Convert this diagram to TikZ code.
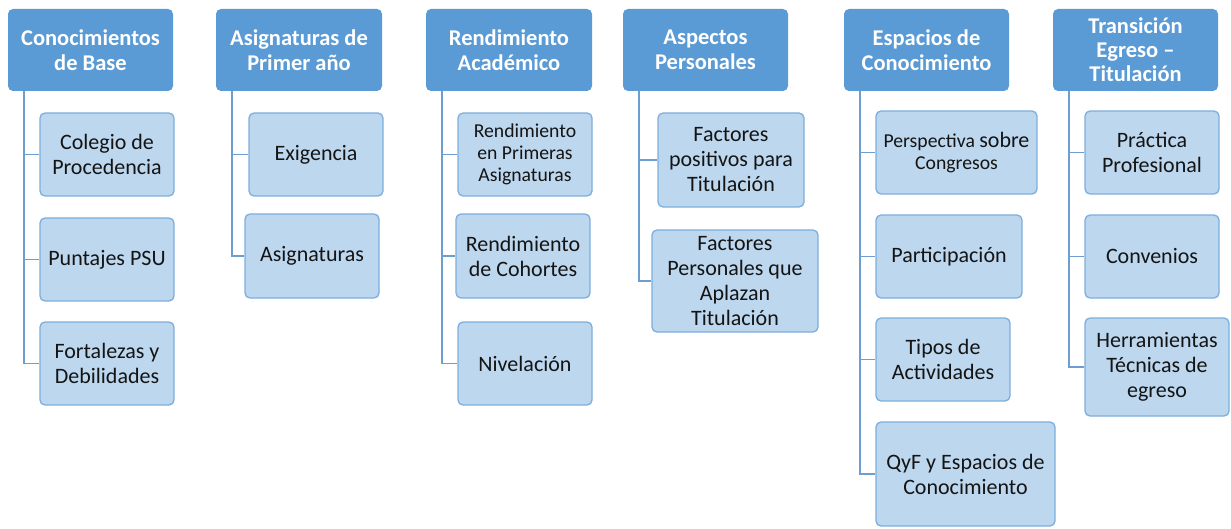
\documentclass[tikz,border=0pt]{standalone}
\usepackage{fontspec}
\setmainfont{Carlito}
\definecolor{hdrfill}{HTML}{5B9BD5}
\definecolor{chfill}{HTML}{BDD7EE}
\definecolor{chdraw}{HTML}{7EAEDD}
\definecolor{conncol}{HTML}{6E9ECF}
\definecolor{txt}{HTML}{141414}
\tikzset{
  hdr/.style={fill=hdrfill, draw=none, rounded corners=5pt, align=center,
    text=white, font=\fontsize{22.5}{25}\selectfont\bfseries, inner sep=0pt},
  child/.style={fill=chfill, draw=chdraw, line width=1.3pt, rounded corners=5pt,
    align=center, text=txt, font=\fontsize{22}{25}\selectfont, inner sep=0pt},
  small/.style={font=\fontsize{19.7}{22}\selectfont},
  conn/.style={draw=conncol, line width=1.4pt},
}
\newcommand\bx[6]{% style, name, x1, y1, x2, y2
  \node[#1, minimum width={(#5-#3)*1pt}, minimum height={(#6-#4)*1pt}] (#2) at ({(#3+#5)/2},{(#4+#6)/2})}
\begin{document}
\begin{tikzpicture}[x=1pt,y=-1pt]
\useasboundingbox (0,0) rectangle (1231,529);
% headers
\bx{hdr}{h1}{8}{9}{173}{91} {Conocimientos\\de Base};
\bx{hdr}{h2}{216}{9}{382}{91} {Asignaturas de\\Primer año};
\bx{hdr}{h3}{426}{9}{592}{91} {Rendimiento\\Académico};
\bx{hdr}{h4}{623}{9}{788}{91} {Aspectos\\Personales};
\bx{hdr}{h5}{844}{9}{1009}{91} {Espacios de\\Conocimiento};
\bx{hdr,font=\fontsize{22.5}{24}\selectfont\bfseries}{h6}{1053}{9}{1218}{91} {Transición\\Egreso –\\Titulación};
% column 1
\bx{child}{c11}{40}{113}{174}{196} {Colegio de\\Procedencia};
\bx{child}{c12}{40}{218}{174}{301} {Puntajes PSU};
\bx{child}{c13}{40}{322}{174}{405} {Fortalezas y\\Debilidades};
% column 2
\bx{child}{c21}{249}{113}{383}{196} {Exigencia};
\bx{child}{c22}{245}{214}{379}{298} {Asignaturas};
% column 3
\bx{child,small}{c31}{458}{113}{592}{196} {Rendimiento\\en Primeras\\Asignaturas};
\bx{child}{c32}{456}{214}{590}{298} {Rendimiento\\de Cohortes};
\bx{child}{c33}{458}{322}{592}{405} {Nivelación};
% column 4
\bx{child}{c41}{658}{113}{804}{207} {Factores\\positivos para\\Titulación};
\bx{child}{c42}{652}{230}{818}{332} {Factores\\Personales que\\Aplazan\\Titulación};
% column 5
\bx{child,small}{c51}{876}{111}{1037}{194} {Perspectiva {\fontsize{22}{22}\selectfont sobre}\\Congresos};
\bx{child}{c52}{876}{215}{1022}{298} {Participación};
\bx{child}{c53}{876}{318}{1010}{401} {Tipos de\\Actividades};
\bx{child}{c54}{876}{422}{1055}{526} {QyF y Espacios de\\Conocimiento};
% column 6
\bx{child}{c61}{1085}{111}{1219}{194} {Práctica\\Profesional};
\bx{child}{c62}{1085}{215}{1219}{298} {Convenios};
\bx{child}{c63}{1085}{318}{1229}{416} {Herramientas\\Técnicas de\\egreso};
% connectors
\foreach \h/\c in {h1/c11,h1/c12,h1/c13,h2/c21,h2/c22,h3/c31,h3/c32,h3/c33,
  h4/c41,h4/c42,h5/c51,h5/c52,h5/c53,h5/c54,h6/c61,h6/c62,h6/c63}
  \draw[conn] ([xshift=16pt]\h.south west) |- (\c.west);
\end{tikzpicture}
\end{document}
